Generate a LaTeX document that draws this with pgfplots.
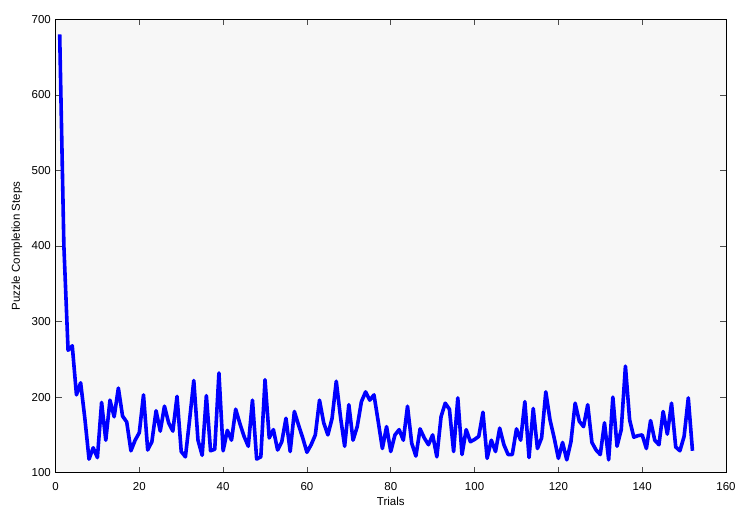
\documentclass[border=0pt]{standalone}
\usepackage{pgfplots}
\pgfplotsset{compat=1.18}
\usepackage{fontspec}
\setmainfont{Liberation Sans}
\definecolor{axbg}{RGB}{247,247,247}
\definecolor{mblue}{RGB}{0,0,255}

\begin{document}
\begin{tikzpicture}
\useasboundingbox (0,0) rectangle (738pt,506pt);
\begin{axis}[
    at={(55.5pt,33.3pt)}, anchor=south west,
    scale only axis,
    width=670.5pt, height=453.4pt,
    xmin=0, xmax=160, ymin=100, ymax=700,
    xtick={0,20,...,160}, ytick={100,200,...,700},
    tick align=inside,
    major tick length=6pt,
    axis line style={black, line width=0.8pt},
    every tick/.style={black!70, line width=0.6pt},
    axis background/.style={fill=axbg},
    font=\fontsize{11.5}{13}\selectfont,
    /pgf/number format/assume math mode=true,
    xticklabel style={anchor=north, inner sep=0pt, yshift=-10pt},
    yticklabel style={anchor=east, inner sep=0pt, xshift=-4.5pt},
    xlabel={Trials},
    ylabel={Puzzle Completion Steps},
    xlabel style={at={(axis description cs:0.5,-0.0624)}, anchor=center, inner sep=0pt},
    ylabel style={at={(axis description cs:-0.0574,0.5)}, anchor=center, inner sep=0pt, rotate=0},
]
\addplot[mblue, line width=3.6pt, line join=round, mark=none] coordinates {
(1,680)(2,400)(3,262)(4,268)(5,203)(6,219)(7,172)(8,118)(9,133)(10,120)
(11,193)(12,143)(13,196)(14,174)(15,212)(16,175)(17,167)(18,129)(19,143)(20,153)
(21,203)(22,130)(23,141)(24,182)(25,155)(26,188)(27,166)(28,155)(29,201)(30,128)
(31,121)(32,170)(33,222)(34,143)(35,123)(36,202)(37,129)(38,131)(39,232)(40,129)
(41,156)(42,143)(43,184)(44,165)(45,148)(46,135)(47,196)(48,118)(49,121)(50,223)
(51,146)(52,157)(53,130)(54,141)(55,172)(56,128)(57,181)(58,163)(59,146)(60,127)
(61,137)(62,150)(63,196)(64,166)(65,150)(66,172)(67,221)(68,174)(69,135)(70,190)
(71,143)(72,161)(73,194)(74,207)(75,196)(76,203)(77,168)(78,132)(79,161)(80,128)
(81,150)(82,157)(83,143)(84,188)(85,139)(86,122)(87,158)(88,146)(89,137)(90,150)
(91,121)(92,174)(93,192)(94,184)(95,128)(96,199)(97,124)(98,157)(99,141)(100,144)
(101,148)(102,180)(103,119)(104,143)(105,128)(106,159)(107,137)(108,124)(109,124)(110,158)
(111,143)(112,194)(113,120)(114,185)(115,132)(116,146)(117,207)(118,170)(119,146)(120,119)
(121,140)(122,117)(123,141)(124,192)(125,168)(126,161)(127,190)(128,140)(129,130)(130,124)
(131,166)(132,117)(133,200)(134,135)(135,157)(136,241)(137,170)(138,147)(139,149)(140,150)
(141,132)(142,169)(143,143)(144,137)(145,181)(146,151)(147,192)(148,134)(149,129)(150,148)
(151,199)(152,129)
};
\end{axis}
\end{tikzpicture}
\end{document}
